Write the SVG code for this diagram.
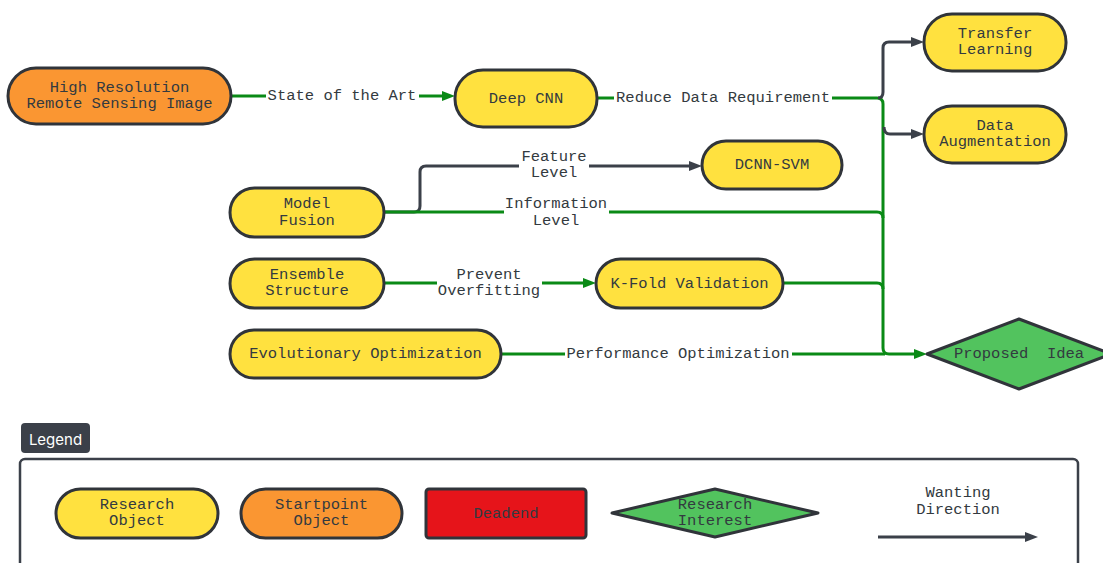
<svg xmlns="http://www.w3.org/2000/svg" width="1103" height="563" viewBox="0 0 1103 563">
  <style>
    .t { font-family: "Liberation Mono", "DejaVu Sans Mono", monospace; font-size: 15.5px; fill: #333a40; text-anchor: middle; dominant-baseline: central; }
    .obj { fill: #ffe13f; stroke: #30343a; stroke-width: 3; }
    .start { fill: #fa9632; stroke: #30343a; stroke-width: 3; }
    .dead { fill: #e6141a; stroke: #30343a; stroke-width: 3; }
    .interest { fill: #52c35e; stroke: #30343a; stroke-width: 3; stroke-linejoin: round; }
    .g { fill: none; stroke: #0a8a16; stroke-width: 3; }
    .k { fill: none; stroke: #3b4049; stroke-width: 3; }
    .g-arrow { marker-end: url(#arrowGreen); }
    .k-arrow { marker-end: url(#arrowGray); }
  </style>
  <defs>
    <marker id="arrowGreen" markerUnits="userSpaceOnUse" markerWidth="14" markerHeight="12" refX="0" refY="6" orient="auto">
      <path d="M0,1 L13,6 L0,11 z" fill="#0a8a16"/>
    </marker>
    <marker id="arrowGray" markerUnits="userSpaceOnUse" markerWidth="14" markerHeight="12" refX="0" refY="6" orient="auto">
      <path d="M0,1 L13,6 L0,11 z" fill="#3b4049"/>
    </marker>
  </defs>

  <rect width="1103" height="563" fill="#ffffff"/>

  <!-- connectors -->
  <g id="connectors">
    <!-- State of the Art -->
    <path class="g" d="M231,96 H266"/>
    <path class="g g-arrow" d="M419,96 H442"/>
    <!-- Reduce Data Requirement, trunk into Proposed Idea -->
    <path class="g" d="M597,98 H614"/>
    <path class="g g-arrow" d="M832,98 H877 Q883,98 883,104 V348 Q883,354 889,354 H914"/>
    <!-- branches to Transfer Learning / Data Augmentation -->
    <path class="k k-arrow" d="M878,98 Q883,98 883,92 V48 Q883,42 889,42 H911"/>
    <path class="k k-arrow" d="M884,127 Q884,134 890,134 H911"/>
    <!-- Model Fusion: Feature Level -->
    <path class="k" d="M384,212 H414 Q420,212 420,206 V172 Q420,166 426,166 H519"/>
    <path class="k k-arrow" d="M589,166 H689"/>
    <!-- Model Fusion: Information Level -->
    <path class="g" d="M384,212 H504"/>
    <path class="g" d="M609,212 H877 Q883,212 883,218"/>
    <!-- Ensemble Structure: Prevent Overfitting -->
    <path class="g" d="M384,283 H437"/>
    <path class="g g-arrow" d="M542,283 H583"/>
    <!-- K-Fold Validation into trunk -->
    <path class="g" d="M783,283 H877 Q883,283 883,289"/>
    <!-- Performance Optimization -->
    <path class="g" d="M501,354 H565"/>
    <path class="g" d="M792,354 H885"/>

    <text class="t" x="342" y="96">State of the Art</text>
    <text class="t" x="723" y="98">Reduce Data Requirement</text>
    <text class="t" x="554" y="157">Feature</text>
    <text class="t" x="554" y="173">Level</text>
    <text class="t" x="556" y="204">Information</text>
    <text class="t" x="556" y="221">Level</text>
    <text class="t" x="489" y="275">Prevent</text>
    <text class="t" x="489" y="291">Overfitting</text>
    <text class="t" x="678" y="354">Performance Optimization</text>
  </g>

  <!-- nodes -->
  <g id="high-res-image">
    <rect class="start" x="8" y="68" width="223" height="56" rx="28"/>
    <text class="t" x="119.5" y="88">High Resolution</text>
    <text class="t" x="119.5" y="104">Remote Sensing Image</text>
  </g>
  <g id="deep-cnn">
    <rect class="obj" x="455" y="70" width="142" height="57" rx="28"/>
    <text class="t" x="526" y="98.5">Deep CNN</text>
  </g>
  <g id="transfer-learning">
    <rect class="obj" x="924" y="14" width="142" height="57" rx="28"/>
    <text class="t" x="995" y="34">Transfer</text>
    <text class="t" x="995" y="50">Learning</text>
  </g>
  <g id="data-augmentation">
    <rect class="obj" x="924" y="106" width="142" height="57" rx="28"/>
    <text class="t" x="995" y="126">Data</text>
    <text class="t" x="995" y="142">Augmentation</text>
  </g>
  <g id="dcnn-svm">
    <rect class="obj" x="702" y="141" width="140" height="48" rx="24"/>
    <text class="t" x="772" y="165">DCNN-SVM</text>
  </g>
  <g id="model-fusion">
    <rect class="obj" x="230" y="188" width="154" height="49" rx="24.5"/>
    <text class="t" x="307" y="204">Model</text>
    <text class="t" x="307" y="221">Fusion</text>
  </g>
  <g id="ensemble-structure">
    <rect class="obj" x="230" y="259" width="154" height="49" rx="24.5"/>
    <text class="t" x="307" y="275">Ensemble</text>
    <text class="t" x="307" y="291">Structure</text>
  </g>
  <g id="k-fold-validation">
    <rect class="obj" x="596" y="259" width="187" height="49" rx="24.5"/>
    <text class="t" x="689.5" y="283.5">K-Fold Validation</text>
  </g>
  <g id="evolutionary-optimization">
    <rect class="obj" x="230" y="330" width="271" height="48" rx="24"/>
    <text class="t" x="365.5" y="354">Evolutionary Optimization</text>
  </g>
  <g id="proposed-idea">
    <path class="interest" d="M927,354 L1019,319 L1111,354 L1019,389 Z"/>
    <text class="t" x="1019" y="354" style="white-space: pre">Proposed  Idea</text>
  </g>

  <!-- legend -->
  <g id="legend">
    <rect x="21" y="423" width="69" height="30" rx="4" fill="#3b4049"/>
    <text x="55.5" y="439" font-family="Inter, 'Noto Sans', sans-serif" font-size="15" fill="#ffffff" text-anchor="middle" dominant-baseline="central">Legend</text>
    <rect x="20" y="459" width="1058" height="130" rx="5" fill="#ffffff" stroke="#3b4049" stroke-width="2.5"/>
  </g>
  <g id="legend-research-object">
    <rect class="obj" x="56" y="489" width="162" height="49" rx="24.5"/>
    <text class="t" x="137" y="505">Research</text>
    <text class="t" x="137" y="521">Object</text>
  </g>
  <g id="legend-startpoint-object">
    <rect class="start" x="241" y="489" width="161" height="49" rx="24.5"/>
    <text class="t" x="321.5" y="505">Startpoint</text>
    <text class="t" x="321.5" y="521">Object</text>
  </g>
  <g id="legend-deadend">
    <rect class="dead" x="426" y="489" width="160" height="49" rx="3"/>
    <text class="t" x="506" y="513.5">Deadend</text>
  </g>
  <g id="legend-research-interest">
    <path class="interest" d="M612,513 L715,489 L818,513 L715,537 Z"/>
    <text class="t" x="715" y="505">Research</text>
    <text class="t" x="715" y="521">Interest</text>
  </g>
  <g id="legend-wanting-direction">
    <text class="t" x="958" y="493">Wanting</text>
    <text class="t" x="958" y="510">Direction</text>
    <path class="k k-arrow" d="M878,537 H1025"/>
  </g>
</svg>
